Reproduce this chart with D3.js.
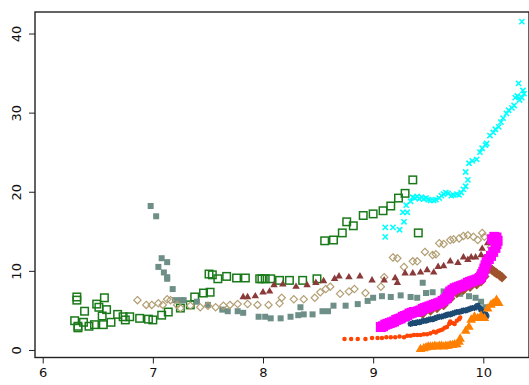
<!DOCTYPE html>
<html>
<head>
<meta charset="utf-8">
<script src="https://cdn.jsdelivr.net/npm/d3@7"></script>
<style>
  html, body { margin: 0; padding: 0; background: #fff; }
  svg { display: block; }
  .tick text { font-family: "DejaVu Sans", sans-serif; font-size: 13px; fill: #111; }
</style>
</head>
<body>
<svg id="chart" width="529" height="385"></svg>
<script>
// Axis ticks
const xTicks = [6, 7, 8, 9, 10];
const yTicks = [0, 10, 20, 30, 40];

// Series values as [x, y] pairs
const greenSquares = [
  [6.31,6.7],[6.31,6.3],[6.38,4.9],[6.49,5.8],[6.56,6.6],[6.51,5.4],[6.58,5.1],
  [6.29,3.7],[6.32,3.0],[6.32,2.8],[6.37,3.5],[6.42,3.0],[6.47,3.2],[6.55,3.2],
  [6.54,4.3],[6.62,3.5],[6.68,4.5],[6.73,4.2],[6.75,3.8],[6.79,4.2],[6.88,4.0],
  [6.96,3.9],[7.00,3.8],[7.08,4.4],[7.14,4.8],[7.25,5.3],[7.34,5.7],[7.38,6.7],
  [7.46,7.2],[7.52,7.3],[7.51,9.6],[7.54,9.5],[7.59,9.0],[7.67,9.3],[7.76,9.1],
  [7.84,9.1],[7.97,9.0],[7.99,9.0],[8.02,9.0],[8.07,9.0],[8.15,8.8],[8.24,8.8],
  [8.36,8.8],[8.49,9.0],[8.56,13.8],[8.64,13.9],[8.72,14.8],[8.76,16.2],[8.82,15.7],
  [8.91,17.0],[9.00,17.2],[9.09,17.6],[9.16,18.2],[9.23,19.2],[9.29,19.8],[9.36,21.5],
  [9.41,14.8]
];

const greySquares = [
  [6.98,18.2],[7.03,16.9],[7.08,11.6],[7.05,10.5],[7.13,11.1],[7.10,9.8],[7.13,9.2],
  [7.13,9.0],[7.18,7.7],[7.25,6.3],[7.28,6.3],[7.20,6.3],[7.40,6.1],[7.50,5.7],
  [7.63,5.1],[7.68,4.9],[7.77,4.9],[7.82,4.7],[7.96,4.2],[8.02,4.2],[8.07,4.0],
  [8.16,4.0],[8.25,4.2],[8.32,4.4],[8.34,5.4],[8.37,4.5],[8.45,4.5],[8.54,4.9],
  [8.59,4.9],[8.64,5.6],[8.75,5.6],[8.86,5.8],[8.95,6.2],[9.00,6.6],[9.08,6.8],
  [9.16,6.7],[9.25,6.9],[9.34,6.7],[9.40,6.6],[9.45,8.5],[9.48,7.2],[9.54,7.3],
  [9.64,7.4],[9.70,7.2],[9.79,7.1],[9.87,6.8],[9.93,6.6],[9.98,6.1],[10.02,5.4]
];

const tanDiamonds = [
  [6.86,6.3],[6.94,5.7],[6.99,5.7],[7.05,5.9],[7.09,5.7],[7.13,6.4],[7.16,6.3],
  [7.22,5.7],[7.25,5.3],[7.34,5.6],[7.43,5.4],[7.50,5.6],[7.57,5.4],[7.64,5.6],
  [7.70,5.7],[7.77,5.8],[7.86,5.8],[7.95,5.7],[8.05,5.7],[8.15,5.9],[8.17,6.6],
  [8.28,6.4],[8.37,6.4],[8.47,6.6],[8.52,7.3],[8.57,7.7],[8.61,8.0],[8.70,7.1],
  [8.78,7.4],[8.83,7.7],[8.93,7.2],[9.07,8.0],[9.10,9.2],[9.18,11.7],[9.22,11.6],
  [9.28,10.5],[9.36,11.2],[9.40,11.2],[9.47,12.4],[9.54,12.0],[9.57,12.1],[9.60,13.5],
  [9.64,13.4],[9.70,13.9],[9.73,14.0],[9.78,14.1],[9.82,14.4],[9.86,14.5],[9.91,14.3],
  [9.95,13.9],[9.99,14.8],[10.01,14.3],[10.07,13.0]
];

const redTriangles = [
  [7.82,6.7],[7.86,6.7],[7.93,6.8],[8.00,7.3],[8.06,7.4],[8.10,8.2],[8.18,8.3],
  [8.30,8.0],[8.40,8.2],[8.48,8.5],[8.55,8.7],[8.65,9.0],[8.69,9.3],[8.78,9.2],
  [8.88,9.3],[8.99,8.8],[9.10,8.8],[9.20,9.1],[9.22,8.5],[9.29,9.7],[9.36,9.7],
  [9.43,9.8],[9.49,10.1],[9.55,9.8],[9.59,10.5],[9.64,10.6],[9.70,11.2],[9.77,11.0],
  [9.82,11.7],[9.86,11.4],[9.89,11.7],[9.93,11.7],[9.98,12.0],[9.99,12.8],[10.04,13.5]
];

const cyanCrosses = [
  [9.11,14.3],[9.11,15.5],[9.18,15.5],[9.24,15.2],[9.28,16.2],[9.27,17.4],[9.31,17.4],
  [9.30,18.3],[9.34,18.8],[9.36,19.3],[9.38,19.2],[9.40,19.4],[9.42,19.1],[9.44,19.3],
  [9.46,19.1],[9.48,19.2],[9.50,19.0],[9.52,18.9],[9.55,18.9],[9.57,19.0],[9.60,19.2],
  [9.62,19.5],[9.64,19.7],[9.66,19.9],[9.68,19.8],[9.71,19.5],[9.73,19.6],[9.76,19.7],
  [9.78,19.6],[9.80,19.9],[9.82,20.3],[9.84,20.7],[9.86,21.5],[9.84,22.5],[9.87,23.6],
  [9.90,23.9],[9.94,24.1],[9.97,25.0],[9.99,25.5],[10.02,25.9],[10.03,26.1],[10.06,27.1],
  [10.09,27.5],[10.11,27.9],[10.14,28.2],[10.16,28.8],[10.18,29.3],[10.21,29.9],[10.23,30.3],
  [10.26,30.6],[10.28,30.9],[10.29,31.9],[10.31,32.1],[10.33,31.6],[10.35,31.9],[10.36,32.8],
  [10.37,32.4],[10.32,33.7],[10.35,41.5]
];

const magentaSquares = [
  [9.07,2.9],[9.09,3.0],[9.11,3.2],[9.13,3.3],[9.15,3.4],[9.17,3.5],[9.19,3.6],
  [9.21,3.8],[9.23,3.9],[9.25,4.0],[9.27,4.2],[9.29,4.3],[9.31,4.4],[9.33,4.6],
  [9.35,4.7],[9.37,4.8],[9.39,4.8],[9.41,4.9],[9.43,5.0],[9.45,5.2],[9.47,5.3],
  [9.49,5.4],[9.51,5.5],[9.53,5.6],[9.55,5.7],[9.57,5.8],[9.59,5.9],[9.61,6.0],
  [9.63,6.2],[9.65,6.4],[9.67,6.6],[9.68,6.9],[9.69,7.1],[9.70,7.4],[9.72,7.6],
  [9.74,7.8],[9.76,7.9],[9.78,8.0],[9.80,8.1],[9.82,8.2],[9.84,8.3],[9.86,8.5],
  [9.88,8.6],[9.90,8.7],[9.92,8.8],[9.94,8.9],[9.96,9.0],[9.97,9.1],[9.98,9.3],
  [9.99,9.6],[10.00,9.9],[10.01,10.3],[10.02,10.7],[10.03,11.1],[10.05,11.5],[10.07,11.9],
  [10.09,12.4],[10.11,12.9],[10.12,13.4],[10.13,13.8],[10.12,14.2],[10.10,14.3],[10.08,14.0]
];

const navyStars = [
  [9.34,3.3],[9.36,3.4],[9.38,3.4],[9.40,3.5],[9.42,3.5],[9.44,3.6],[9.46,3.7],
  [9.48,3.7],[9.50,3.8],[9.52,3.9],[9.54,3.9],[9.56,4.0],[9.58,4.1],[9.60,4.2],
  [9.62,4.2],[9.64,4.3],[9.66,4.4],[9.68,4.5],[9.70,4.5],[9.72,4.6],[9.74,4.7],
  [9.76,4.8],[9.78,4.8],[9.80,4.9],[9.82,5.0],[9.84,5.0],[9.86,5.1],[9.88,5.2],
  [9.90,5.3],[9.92,5.3],[9.94,5.5],[9.95,5.6],[9.97,5.3],[9.98,5.1],[10.00,4.8],
  [10.02,4.5],[10.03,4.3]
];

const orangeRedDots = [
  [8.74,1.4],[8.80,1.4],[8.86,1.4],[8.93,1.4],[8.99,1.5],[9.04,1.5],[9.08,1.5],
  [9.12,1.6],[9.16,1.6],[9.20,1.6],[9.24,1.7],[9.28,1.6],[9.31,1.8],[9.34,1.8],
  [9.37,1.9],[9.40,1.9],[9.43,1.9],[9.46,2.0],[9.49,2.0],[9.52,2.1],[9.55,2.3],
  [9.57,2.2],[9.59,2.4],[9.61,2.5],[9.63,2.6],[9.65,2.8],[9.67,2.9],[9.69,3.3],
  [9.70,3.6],[9.72,3.4],[9.74,3.3],[9.76,3.7],[9.78,3.9],[9.79,4.1]
];

const orangeTriangles = [
  [9.43,0.1],[9.46,0.2],[9.48,0.3],[9.50,0.4],[9.52,0.4],[9.54,0.4],[9.56,0.5],
  [9.58,0.4],[9.60,0.5],[9.62,0.5],[9.64,0.4],[9.66,0.5],[9.68,0.5],[9.70,0.6],
  [9.72,0.6],[9.74,0.7],[9.76,0.7],[9.78,1.0],[9.79,1.4],[9.84,2.4],[9.87,2.9],
  [9.89,3.8],[9.92,4.2],[9.95,4.0],[9.98,4.3],[10.01,4.0],[10.04,5.2],[10.07,5.7],
  [10.09,5.9],[10.12,6.3],[10.14,5.9]
];

const siennaDiamonds = [
  [9.45,4.6],[9.52,5.0],[9.58,5.3],[9.64,5.7],[9.70,6.5],[9.76,7.2],[9.82,7.6],
  [9.88,8.0],[9.94,8.3],[9.98,8.7],[10.01,9.3],[10.04,10.6],[10.06,10.3],[10.08,10.1],
  [10.10,9.9],[10.12,9.7],[10.15,9.4],[10.17,9.2],[10.02,9.9]
];

const svg = d3.select("#chart");
const mLeft = 35, mRight = 529, mTop = 12, mBottom = 357.5;

const x = d3.scaleLinear().domain([5.930, 10.415]).range([mLeft, mRight]);
const y = d3.scaleLinear().domain([-0.95, 42.72]).range([mBottom, mTop]);

// Axes
const xAxis = d3.axisBottom(x).tickValues(xTicks).tickSize(6).tickPadding(4).tickFormat(d3.format("d"));
const yAxis = d3.axisLeft(y).tickValues(yTicks).tickSize(6).tickFormat(d3.format("d"));

const gx = svg.append("g").attr("transform", `translate(0,${mBottom})`).call(xAxis);
gx.select(".domain").remove();
gx.selectAll(".tick line").attr("stroke", "#222").attr("stroke-width", 1);

const gy = svg.append("g").attr("transform", `translate(${mLeft},0)`).call(yAxis);
gy.select(".domain").remove();
gy.selectAll(".tick line").attr("stroke", "#222").attr("stroke-width", 1);
gy.selectAll(".tick text")
  .attr("transform", "rotate(-90)")
  .attr("x", 0).attr("y", -14)
  .attr("dy", 0)
  .attr("text-anchor", "middle");

// Plot frame
svg.append("rect")
  .attr("x", mLeft).attr("y", mTop)
  .attr("width", mRight - mLeft).attr("height", mBottom - mTop)
  .attr("fill", "none").attr("stroke", "#222").attr("stroke-width", 1.4);

const plot = svg.append("g");

function squares(data, size, fill, stroke, sw) {
  plot.append("g").selectAll("rect").data(data).join("rect")
    .attr("x", d => x(d[0]) - size / 2).attr("y", d => y(d[1]) - size / 2)
    .attr("width", size).attr("height", size)
    .attr("fill", fill).attr("stroke", stroke).attr("stroke-width", sw);
}
function symbols(data, type, area, fill, stroke, sw) {
  plot.append("g").selectAll("path").data(data).join("path")
    .attr("transform", d => `translate(${x(d[0])},${y(d[1])})`)
    .attr("d", d3.symbol(type, area))
    .attr("fill", fill).attr("stroke", stroke).attr("stroke-width", sw);
}
const crossPath = r => `M${-r},${-r}L${r},${r}M${-r},${r}L${r},${-r}`;
const starPath = r => `M${-r},0L${r},0M0,${-r}L0,${r}M${-r*0.75},${-r*0.75}L${r*0.75},${r*0.75}M${-r*0.75},${r*0.75}L${r*0.75},${-r*0.75}`;

squares(greenSquares, 7.5, "none", "#1a7a1a", 1.5);
squares(greySquares, 6, "#6e8f87", "none", 0);
symbols(tanDiamonds, d3.symbolDiamond2, 34, "none", "#b39f74", 1.2);
symbols(redTriangles, d3.symbolTriangle, 24, "#8b3a3a", "none", 0);
plot.append("g").selectAll("path").data(cyanCrosses).join("path")
  .attr("transform", d => `translate(${x(d[0])},${y(d[1])})`)
  .attr("d", crossPath(2.6)).attr("stroke", "#00ffff").attr("stroke-width", 1.6).attr("fill", "none");
symbols(siennaDiamonds, d3.symbolDiamond2, 70, "#a0522d", "none", 0);
squares(magentaSquares, 10, "#ff00ff", "none", 0);
plot.append("g").selectAll("path").data(navyStars).join("path")
  .attr("transform", d => `translate(${x(d[0])},${y(d[1])})`)
  .attr("d", starPath(3)).attr("stroke", "#1c4a72").attr("stroke-width", 1.6).attr("fill", "none");
symbols(orangeRedDots, d3.symbolCircle, 16, "#ff4500", "none", 0);
symbols(orangeTriangles, d3.symbolTriangle, 40, "#ff8000", "none", 0);
</script>
</body>
</html>
